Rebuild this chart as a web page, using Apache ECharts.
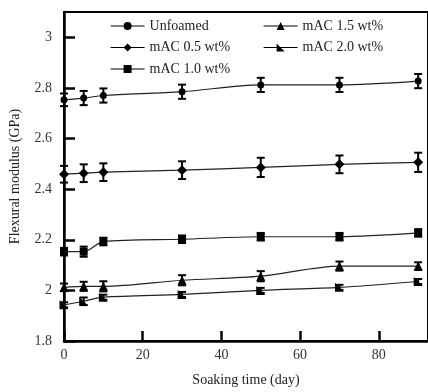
<!DOCTYPE html>
<html>
<head>
<meta charset="utf-8">
<script src="https://cdn.jsdelivr.net/npm/echarts@6/dist/echarts.min.js"></script>
<style>
html, body { margin: 0; padding: 0; background: #fff; }
#chart { width: 428px; height: 392px; }
</style>
</head>
<body>
<div id="chart"></div>
<script>
var myChart = echarts.init(document.getElementById('chart'));

// soaking time (day)
var days = [0, 5, 10, 30, 50, 70, 90];
var seriesNames = ['Unfoamed', 'mAC 0.5 wt%', 'mAC 1.0 wt%', 'mAC 1.5 wt%', 'mAC 2.0 wt%'];
// flexural modulus (GPa)
var unfoamed = [2.753, 2.760, 2.770, 2.785, 2.812, 2.812, 2.827];
var mac05 = [2.459, 2.463, 2.467, 2.475, 2.486, 2.498, 2.506];
var mac10 = [2.153, 2.153, 2.193, 2.202, 2.212, 2.212, 2.227];
var mac15 = [2.012, 2.016, 2.016, 2.040, 2.056, 2.096, 2.096];
var mac20 = [1.943, 1.957, 1.973, 1.984, 2.000, 2.012, 2.035];
// error (+/-)
var errUnfoamed = [0.025, 0.028, 0.028, 0.028, 0.028, 0.028, 0.028];
var errMac05 = [0.033, 0.035, 0.035, 0.035, 0.038, 0.035, 0.038];
var errMac10 = [0.015, 0.02, 0.015, 0.015, 0.015, 0.015, 0.015];
var errMac15 = [0.015, 0.018, 0.02, 0.02, 0.02, 0.018, 0.015];
var errMac20 = [0.01, 0.015, 0.01, 0.01, 0.01, 0.01, 0.01];

var values = [unfoamed, mac05, mac10, mac15, mac20];
var errors = [errUnfoamed, errMac05, errMac10, errMac15, errMac20];
var symbols = ['circle', 'diamond', 'rect', 'triangle', 'path://M0,0L0,10L10,10Z'];
var sizes = [7, 10, 8, 9, 9];

var font = 'Liberation Serif';

function errorSeries(vals, errs) {
    var data = [];
    for (var i = 0; i < days.length; ++i) {
        data.push([days[i], vals[i] - errs[i], vals[i] + errs[i]]);
    }
    return {
        type: 'custom',
        silent: true,
        z: 1,
        data: data,
        encode: { x: 0, y: [1, 2] },
        renderItem: function (params, api) {
            var lo = api.coord([api.value(0), api.value(1)]);
            var hi = api.coord([api.value(0), api.value(2)]);
            var w = 4;
            var st = { stroke: '#000', lineWidth: 2 };
            return {
                type: 'group',
                children: [
                    { type: 'line', shape: { x1: lo[0], y1: lo[1], x2: hi[0], y2: hi[1] }, style: st },
                    { type: 'line', shape: { x1: lo[0] - w, y1: lo[1], x2: lo[0] + w, y2: lo[1] }, style: st },
                    { type: 'line', shape: { x1: hi[0] - w, y1: hi[1], x2: hi[0] + w, y2: hi[1] }, style: st }
                ]
            };
        }
    };
}

var series = [];
for (var k = 0; k < values.length; ++k) {
    series.push(errorSeries(values[k], errors[k]));
}
for (var k = 0; k < values.length; ++k) {
    var pts = [];
    for (var i = 0; i < days.length; ++i) pts.push([days[i], values[k][i]]);
    series.push({
        name: seriesNames[k],
        type: 'line',
        z: 3,
        smooth: 0.3,
        data: pts,
        symbol: symbols[k],
        symbolSize: sizes[k],
        showAllSymbol: true,
        itemStyle: { color: '#000' },
        lineStyle: { color: '#222', width: 1.2 }
    });
}

var legendBase = {
    orient: 'vertical',
    itemWidth: 34,
    itemHeight: 10,
    itemGap: 7.5,
    textStyle: { fontFamily: font, fontSize: 14, color: '#222' },
    lineStyle: { width: 1.2, color: '#000' }
};

myChart.setOption({
    backgroundColor: '#fff',
    animation: false,
    legend: [
        Object.assign({}, legendBase, { left: 105, top: 14, data: seriesNames.slice(0, 3) }),
        Object.assign({}, legendBase, { left: 258, top: 14, data: seriesNames.slice(3) })
    ],
    grid: {
        left: 63,
        right: 0,
        top: 12,
        bottom: 49,
        show: true,
        borderColor: '#000',
        borderWidth: 2
    },
    xAxis: {
        type: 'value',
        min: 0,
        max: 92.5,
        interval: 20,
        name: 'Soaking time (day)',
        nameLocation: 'middle',
        nameGap: 32,
        nameTextStyle: { fontFamily: font, fontSize: 14, color: '#222' },
        axisLine: { lineStyle: { color: '#000', width: 2.5 } },
        axisTick: { inside: true, length: 10, lineStyle: { color: '#000', width: 2.5 } },
        axisLabel: { showMaxLabel: false, fontFamily: font, fontSize: 14, color: '#333', margin: 7 },
        splitLine: { show: false }
    },
    yAxis: {
        type: 'value',
        min: 1.8,
        max: 3.1,
        interval: 0.2,
        name: 'Flexural modulus (GPa)',
        nameLocation: 'middle',
        nameGap: 42,
        nameTextStyle: { fontFamily: font, fontSize: 14, color: '#222' },
        axisLine: { lineStyle: { color: '#000', width: 2.5 } },
        axisTick: { inside: true, length: 11, lineStyle: { color: '#000', width: 2.5 } },
        axisLabel: { showMaxLabel: false, fontFamily: font, fontSize: 14, color: '#333', margin: 12 },
        splitLine: { show: false }
    },
    series: series
});
</script>
</body>
</html>
